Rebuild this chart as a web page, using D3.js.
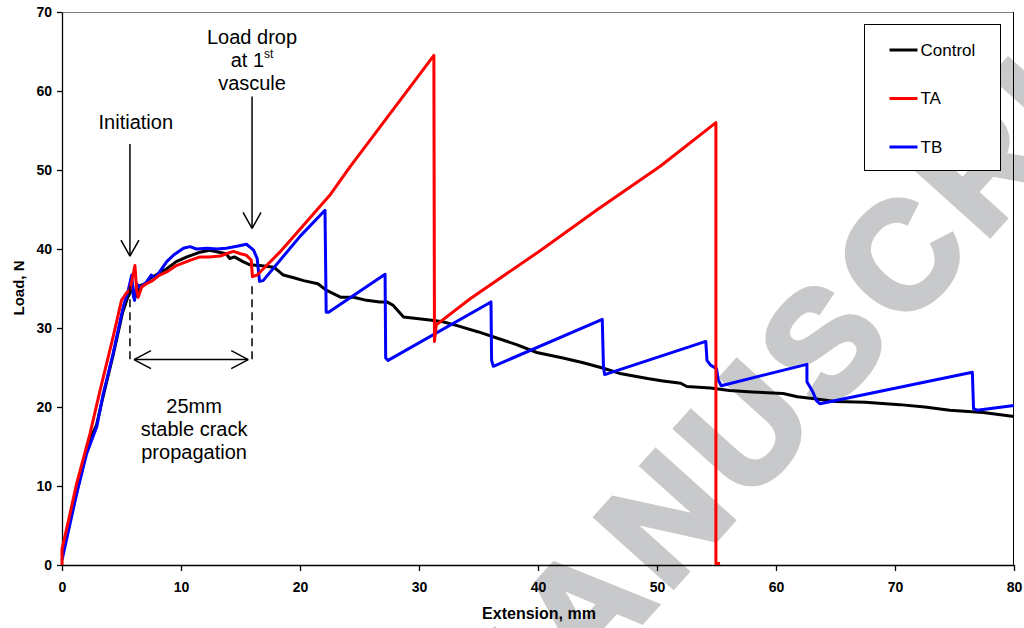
<!DOCTYPE html>
<html>
<head>
<meta charset="utf-8">
<script src="https://cdn.jsdelivr.net/npm/d3@7"></script>
<style>
  body { margin: 0; background: #fff; }
  svg { font-family: Arial, "Liberation Sans", Helvetica, sans-serif; }
  .axis text { font-weight: bold; font-size: 14px; fill: #000; font-family: Arial, "Liberation Sans", sans-serif; }
  .note { font-size: 20px; fill: #000; }
</style>
</head>
<body>
<svg id="chart"></svg>
<script>
// [extension mm, load N]
const controlData = [[0,1.3],[0.6,5.2],[1.2,9.0],[2.0,14.0],[2.5,16.4],[2.9,17.7],[3.4,21.0],[4.3,26.6],[5.1,32.0],
  [5.5,33.8],[5.9,35.0],[6.2,34.0],[6.6,35.4],[7.0,35.6],[7.4,36.3],[8.0,36.8],[8.8,37.5],[9.6,38.4],[10.5,39.0],
  [11.6,39.6],[12.4,39.85],[13.3,39.55],[13.8,39.4],[14.1,38.8],[14.5,39.0],[15.2,38.4],[15.8,38.0],[16.6,37.9],
  [17.8,37.7],[18.6,36.7],[19.4,36.4],[20.3,36.0],[21.5,35.6],[22.2,34.8],[23.4,33.9],[24.5,33.9],[25.6,33.5],
  [26.7,33.3],[27.3,33.3],[27.8,32.9],[28.7,31.4],[29.8,31.2],[30.9,31.0],[32.0,30.8],[33.2,30.3],[35.0,29.5],
  [36.6,28.7],[38.2,27.9],[39.9,26.9],[42.1,26.2],[43.8,25.6],[45.5,24.9],[47.0,24.2],[49.2,23.6],[50.5,23.3],
  [52.0,23.0],[52.5,22.6],[54.5,22.4],[56.1,22.1],[58.0,21.9],[60.6,21.7],[61.8,21.3],[63.4,21.0],[65.0,20.7],
  [67.5,20.6],[70.4,20.3],[72.5,20.0],[74.6,19.6],[77.4,19.3],[80,18.8]];

const taData = [[0,0],[0,2.0],[0.6,6.0],[1.23,10.3],[2.35,16.6],[3.2,22.1],[4.3,28.9],[5.0,33.5],[5.4,34.4],
  [5.7,34.8],[5.9,36.2],[6.13,37.9],[6.27,34.8],[6.4,33.9],[6.7,35.2],[7.1,35.6],[7.6,36.0],[8.2,36.7],[8.8,37.1],
  [9.6,37.9],[10.8,38.6],[11.6,39.0],[12.4,39.0],[13.3,39.1],[13.8,39.4],[14.4,39.7],[15.0,39.4],[15.5,39.2],
  [15.9,38.6],[16.0,36.5],[16.4,36.7],[18.3,39.6],[20.0,42.5],[22.5,46.8],[24.2,50.4],[26.7,55.4],[29.5,61.0],
  [31.25,64.5],[31.3,28.3],[31.45,30.4],[34.3,33.7],[40.0,39.6],[45.0,45.0],[50.3,50.5],[54.95,56.0],
  [54.95,0.2],[55.3,0.2]];

const tbData = [[0,0.6],[1.23,9.0],[2.07,14.1],[2.92,17.5],[3.47,21.7],[4.3,26.8],[5.15,32.7],[5.57,34.8],
  [5.86,36.7],[6.0,34.0],[6.1,33.5],[6.27,35.6],[6.55,35.1],[7.1,35.8],[7.5,36.7],[7.8,36.3],[8.2,37.1],
  [8.8,38.4],[9.35,39.2],[10.2,40.1],[10.76,40.3],[11.3,40.0],[12.2,40.1],[13.0,40.0],[13.8,40.1],[14.7,40.35],
  [15.5,40.6],[16.1,39.85],[16.4,38.8],[16.6,35.9],[16.9,36.0],[20.0,41.6],[22.1,44.9],[22.2,32.0],[22.4,32.0],
  [27.15,36.8],[27.2,26.2],[27.4,25.9],[36.05,33.3],[36.1,25.9],[36.25,25.15],[45.4,31.1],[45.5,25.1],
  [45.6,24.1],[54.1,28.3],[54.2,25.9],[54.5,25.3],[55.0,24.85],[55.15,23.4],[55.4,22.7],[62.6,25.4],
  [62.6,23.2],[63.1,21.9],[63.4,20.8],[63.7,20.4],[76.5,24.4],[76.6,19.8],[76.9,19.6],[80,20.2]];

const seriesNames = ['Control', 'TA', 'TB'];
const seriesColors = ['#000000', '#ff0000', '#0000ff'];
const xTicks = [0, 10, 20, 30, 40, 50, 60, 70, 80];
const yTicks = [0, 10, 20, 30, 40, 50, 60, 70];

const W = 1024, H = 628;
const margin = { top: 12, right: 10, bottom: 63, left: 62 };
const width = W - margin.left - margin.right;
const height = H - margin.top - margin.bottom;

const svg = d3.select('#chart').attr('width', W).attr('height', H);

// watermark sits under everything
svg.append('g')
  .attr('transform', 'translate(899,255) rotate(-48)')
  .append('text')
  .attr('x', -1639)
  .attr('y', 54)
  .style('font-size', '150px')
  .style('font-weight', 'bold')
  .style('letter-spacing', '12px')
  .attr('fill', '#c8c9cb')
  .attr('stroke', '#c8c9cb')
  .attr('stroke-width', 6)
  .attr('stroke-linejoin', 'miter')
  .text('ACCEPTED MANUSCRIPT');

const g = svg.append('g').attr('transform', `translate(${margin.left},${margin.top})`);

const x = d3.scaleLinear().domain([0, 80]).range([0, width]);
const y = d3.scaleLinear().domain([0, 70]).range([height, 0]);

// frame: grey top, black right
g.append('line').attr('x1', 0).attr('x2', width).attr('y1', 0.5).attr('y2', 0.5)
  .attr('stroke', '#808080');
g.append('line').attr('x1', width - 0.5).attr('x2', width - 0.5).attr('y1', 0).attr('y2', height)
  .attr('stroke', '#000');

g.append('g').attr('class', 'axis')
  .attr('transform', `translate(0,${height})`)
  .call(d3.axisBottom(x).tickValues(xTicks).tickSize(6).tickSizeOuter(0).tickPadding(11));
g.append('g').attr('class', 'axis')
  .call(d3.axisLeft(y).tickValues(yTicks).tickSize(5).tickSizeOuter(0).tickPadding(5));
g.selectAll('.axis path, .axis line').attr('stroke', '#000').attr('stroke-width', 1.3);

// axis titles
svg.append('text')
  .attr('x', margin.left + width / 2 + 1)
  .attr('y', 619)
  .attr('text-anchor', 'middle')
  .style('font-size', '16px')
  .style('font-weight', 'bold')
  .text('Extension, mm');

svg.append('text')
  .attr('transform', 'rotate(-90)')
  .attr('x', -288)
  .attr('y', 24)
  .attr('text-anchor', 'middle')
  .style('font-size', '15px')
  .style('font-weight', 'bold')
  .text('Load, N');

// curves
const line = d3.line().x(d => x(d[0])).y(d => y(d[1]));
const drawOrder = [[controlData, 0], [tbData, 2], [taData, 1]];
drawOrder.forEach(([data, i]) => {
  g.append('path')
    .datum(data)
    .attr('fill', 'none')
    .attr('stroke', seriesColors[i])
    .attr('stroke-width', 3)
    .attr('stroke-linejoin', 'round')
    .attr('d', line);
});

// annotations
const arrowHead = (tipX, tipY, dx, dy) => `M${tipX + dx},${tipY + dy}L${tipX},${tipY}`;
const ann = g.append('g').attr('stroke', '#000').attr('stroke-width', 1.5).attr('fill', 'none');

// Initiation arrow
ann.append('line').attr('x1', x(5.71)).attr('x2', x(5.71)).attr('y1', y(53.3)).attr('y2', y(39.1));
ann.append('path').attr('d', arrowHead(x(5.71), y(39.1), -9, -16) + arrowHead(x(5.71), y(39.1), 9, -16));

// Load drop arrow
ann.append('line').attr('x1', x(15.97)).attr('x2', x(15.97)).attr('y1', y(59.3)).attr('y2', y(42.6));
ann.append('path').attr('d', arrowHead(x(15.97), y(42.6), -9, -16) + arrowHead(x(15.97), y(42.6), 9, -16));

// dashed guides
[5.71, 15.97].forEach(v => {
  ann.append('line').attr('x1', x(v)).attr('x2', x(v)).attr('y1', y(35.3)).attr('y2', y(25.8))
    .attr('stroke-dasharray', '8,5');
});

// double arrow
ann.append('line').attr('x1', x(6.05)).attr('x2', x(15.65)).attr('y1', y(26)).attr('y2', y(26));
ann.append('path').attr('d',
  arrowHead(x(6.05), y(26), 17, -9) + arrowHead(x(6.05), y(26), 17, 9) +
  arrowHead(x(15.65), y(26), -17, -9) + arrowHead(x(15.65), y(26), -17, 9));

const note = (px, py, lines, step) => {
  lines.forEach((t, i) => {
    g.append('text').attr('class', 'note')
      .attr('x', px).attr('y', py + i * step)
      .attr('text-anchor', 'middle')
      .text(t);
  });
};
note(x(6.2), y(55.2), ['Initiation'], 0);
note(x(11.1), y(19.2), ['25mm', 'stable crack', 'propagation'], 23);

// Load drop at 1st vascule
const ld = g.append('text').attr('class', 'note').attr('text-anchor', 'middle');
ld.append('tspan').attr('x', x(15.97)).attr('y', y(65.9)).text('Load drop');
const l2 = g.append('text').attr('class', 'note').attr('text-anchor', 'middle')
  .attr('x', x(15.97)).attr('y', y(63));
l2.append('tspan').text('at 1');
l2.append('tspan').attr('dy', -9).style('font-size', '12px').text('st');
g.append('text').attr('class', 'note').attr('text-anchor', 'middle')
  .attr('x', x(15.97)).attr('y', y(60.1)).text('vascule');

// legend
const lg = svg.append('g').attr('transform', 'translate(864.5,24.5)');
lg.append('rect').attr('width', 136).attr('height', 146)
  .attr('fill', '#fff').attr('stroke', '#000').attr('stroke-width', 1);
seriesNames.forEach((name, i) => {
  const yy = 25.5 + i * 48.5;
  lg.append('line').attr('x1', 25).attr('x2', 53).attr('y1', yy).attr('y2', yy)
    .attr('stroke', seriesColors[i]).attr('stroke-width', 3);
  lg.append('text').attr('x', 56).attr('y', yy).attr('dy', '0.35em')
    .style('font-size', '17px').text(name);
});
</script>
</body>
</html>
